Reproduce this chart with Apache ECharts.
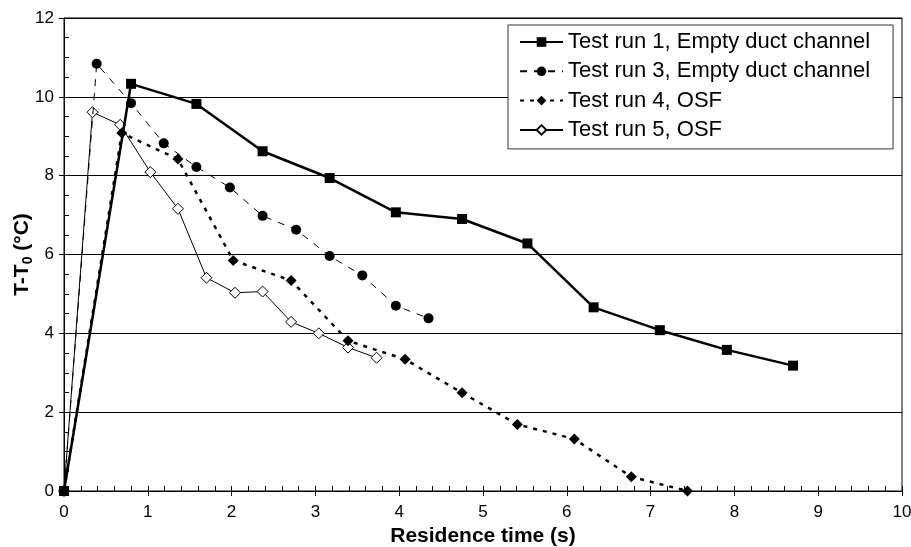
<!DOCTYPE html>
<html><head><meta charset="utf-8">
<script src="https://cdn.jsdelivr.net/npm/echarts@6/dist/echarts.min.js"></script>
<style>html,body{margin:0;padding:0;background:#fff}#c{width:911px;height:547px}</style>
</head><body><div id="c"></div>
<script>
const seriesNames = ['Test run 1, Empty duct channel','Test run 3, Empty duct channel','Test run 4, OSF','Test run 5, OSF'];
const run1 = [[0,0],[0.80,10.33],[1.58,9.82],[2.37,8.62],[3.17,7.94],[3.96,7.07],[4.75,6.90],[5.53,6.28],[6.32,4.66],[7.11,4.08],[7.91,3.58],[8.70,3.18]];
const run3 = [[0,0],[0.39,10.84],[0.80,9.84],[1.19,8.82],[1.58,8.22],[1.98,7.70],[2.37,6.98],[2.77,6.63],[3.17,5.96],[3.56,5.47],[3.96,4.70],[4.35,4.38]];
const run4 = [[0,0],[0.69,9.08],[1.36,8.42],[2.02,5.85],[2.71,5.34],[3.39,3.81],[4.07,3.34],[4.75,2.49],[5.41,1.69],[6.09,1.32],[6.77,0.36],[7.44,0]];
const run5 = [[0,0],[0.34,9.61],[0.67,9.29],[1.03,8.09],[1.36,7.16],[1.70,5.41],[2.04,5.03],[2.37,5.06],[2.71,4.29],[3.04,4.00],[3.39,3.64],[3.73,3.38]];
const xTitle = 'Residence time (s)';
const xMin = 0, xMax = 10, xStep = 1;
const yMin = 0, yMax = 12, yStep = 2;

const FONT = '"Liberation Sans", Arial, sans-serif';
const chart = echarts.init(document.getElementById('c'), null, {renderer:'canvas'});
const baseX = {type:'value', min:xMin, max:xMax, interval:xStep, gridIndex:0};
const baseY = {type:'value', min:yMin, max:yMax, interval:yStep, gridIndex:0};
chart.setOption({
  animation:false,
  backgroundColor:'#fff',
  grid:{left:64, right:9, top:18, bottom:56, show:true, borderColor:'#000', borderWidth:1, backgroundColor:'transparent', containLabel:false, outerBoundsMode:'none'},
  legend:{
    orient:'vertical', left:508, top:25,
    backgroundColor:'#fff', borderColor:'#333', borderWidth:1,
    padding:[6,23,8,11],
    itemWidth:43, itemHeight:12, itemGap:7.3,
    textStyle:{fontFamily:FONT, fontSize:22, color:'#000', lineHeight:22},
    data:seriesNames
  },
  xAxis:[
    Object.assign({}, baseX, {
      name:xTitle, nameLocation:'middle', nameGap:35, nameMoveOverlap:false,
      nameTextStyle:{fontFamily:FONT, fontSize:21, fontWeight:'bold', color:'#000'},
      axisLine:{show:true, lineStyle:{color:'#000', width:1}},
      axisTick:{show:true, inside:true, length:5, lineStyle:{color:'#000'}},
      minorTick:{show:true, splitNumber:5, length:5, lineStyle:{color:'#000'}},
      axisLabel:{fontFamily:FONT, fontSize:17, color:'#000', margin:13},
      splitLine:{show:false}
    }),
    Object.assign({}, baseX, {
      position:'bottom',
      axisLine:{show:false},
      axisTick:{show:true, inside:false, length:5, lineStyle:{color:'#000'}},
      axisLabel:{show:false}, splitLine:{show:false}
    })
  ],
  yAxis:[
    Object.assign({}, baseY, {
      name:'{a|T-T}{s|0}{a| (°C)}', nameLocation:'middle', nameGap:29, nameRotate:90, nameMoveOverlap:false,
      nameTextStyle:{fontFamily:FONT, fontSize:21, fontWeight:'bold', color:'#000',
        rich:{
          a:{fontFamily:FONT, fontSize:21, fontWeight:'bold', color:'#000', lineHeight:26, verticalAlign:'middle'},
          s:{fontFamily:FONT, fontSize:14, fontWeight:'bold', color:'#000', lineHeight:14, verticalAlign:'bottom', padding:[8,0,0,0]}
        }},
      axisLine:{show:true, lineStyle:{color:'#000', width:1}},
      axisTick:{show:true, inside:true, length:5, lineStyle:{color:'#000'}},
      minorTick:{show:true, splitNumber:4, length:5, lineStyle:{color:'#000'}},
      axisLabel:{fontFamily:FONT, fontSize:17, color:'#000', margin:10},
      splitLine:{show:true, lineStyle:{color:'#000', width:1}}
    }),
    Object.assign({}, baseY, {
      position:'left',
      axisLine:{show:false},
      axisTick:{show:true, inside:false, length:5, lineStyle:{color:'#000'}},
      axisLabel:{show:false}, splitLine:{show:false}
    })
  ],
  series:[
    {name:seriesNames[0], type:'line', data:run1, symbol:'rect', symbolSize:10,
     lineStyle:{color:'#000', width:2.5, type:'solid'}, itemStyle:{color:'#000'}, z:5},
    {name:seriesNames[1], type:'line', data:run3, symbol:'circle', symbolSize:10,
     lineStyle:{color:'#000', width:1, type:[7,7]}, itemStyle:{color:'#000'}, z:4},
    {name:seriesNames[2], type:'line', data:run4, symbol:'diamond', symbolSize:[11,11],
     lineStyle:{color:'#000', width:2.5, type:[4,6]}, itemStyle:{color:'#000'}, z:3},
    {name:seriesNames[3], type:'line', data:run5, symbol:'diamond', symbolSize:[11,11],
     lineStyle:{color:'#000', width:1, type:'solid'}, itemStyle:{color:'#fff', borderColor:'#000', borderWidth:1}, z:2}
  ]
});
</script></body></html>
